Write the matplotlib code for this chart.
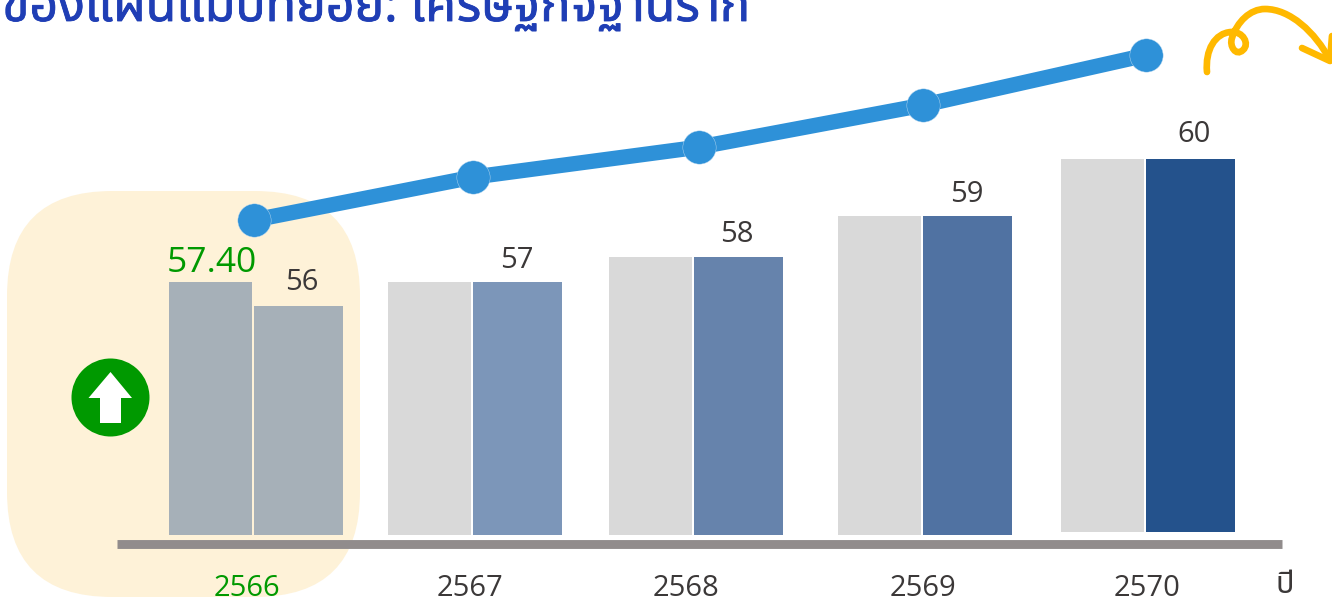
import matplotlib
matplotlib.use('Agg')
import matplotlib.pyplot as plt
import matplotlib.patheffects as pe
from matplotlib.patches import FancyBboxPatch, Circle, Polygon, PathPatch
from matplotlib.path import Path

years = ['2566', '2567', '2568', '2569', '2570']
first_labels = ['57.40']
second_labels = ['56', '57', '58', '59', '60']

# bar heights, the source chart does not draw them to a linear scale
first_vals = [56.97, 56.97, 58.0, 59.68, 62.02]
second_vals = [56.0, 56.97, 58.0, 59.68, 62.02]
line_vals = [59.51, 61.27, 62.5, 64.22, 66.27]

base = [46.6, 46.6, 46.6, 46.6, 46.72]
# group centres are not evenly spaced in the picture
pos = [253, 472, 693, 922, 1145]
line_pos = [254, 473, 699, 923, 1146]
first_colors = ['#A6B0B8', '#D9D9D9', '#D9D9D9', '#D9D9D9', '#D9D9D9']
second_colors = ['#A6B0B8', '#7C96B9', '#6683AC', '#5072A2', '#24528C']

W, H = 1332, 606
plt.rcParams['font.family'] = ['Open Sans', 'DejaVu Sans']
thai = ['Noto Sans Thai', 'Sarabun', 'IBM Plex Sans Thai', 'DejaVu Sans']

fig = plt.figure(figsize=(W / 100, H / 100), dpi=100)

# background axes in pixels for the decorations
deco = fig.add_axes([0, 0, 1, 1], zorder=1)
deco.set_xlim(0, W)
deco.set_ylim(H, 0)
deco.axis('off')

ax = fig.add_axes([0, 0, 1, 1], zorder=2)
ax.patch.set_alpha(0)
ax.set_xlim(0, W)
ax.set_ylim(43.69, 68.53)
ax.axis('off')

deco.add_patch(FancyBboxPatch((112, 296), 143, 196, boxstyle='round,pad=105,rounding_size=105',
                              fc='#FEF2D8', ec='none'))
deco.plot([117, 1282], [543.5, 543.5], color='#918C8C', lw=6.4, solid_capstyle='butt')

for i in range(5):
    ax.bar(pos[i] - 84, first_vals[i] - base[i], width=83, bottom=base[i], align='edge', color=first_colors[i])
    ax.bar(pos[i] + 1, second_vals[i] - base[i], width=89, bottom=base[i], align='edge', color=second_colors[i])

ax.plot(line_pos, line_vals, color='#2E91D8', lw=11, marker='o', ms=24, mec='#BFDCF2', mew=0.3,
        solid_capstyle='butt', zorder=5)

# value labels
deco.text(212, 263, first_labels[0], color='#009900', fontsize=25.5, ha='center', va='center', zorder=6)
label_x = [302, 517, 737, 967, 1194.5]
label_y = [283, 260, 235, 194, 135]
for x, y, s in zip(label_x, label_y, second_labels):
    deco.text(x, y, s, color='#3B3838', fontsize=21, ha='center', va='center', zorder=6)

# year labels
year_x = [246.5, 470, 686, 923, 1147]
for i, y in enumerate(years):
    deco.text(year_x[i], 588, y, color='#009900' if i == 0 else '#3B3838', fontsize=21,
              ha='center', va='center', zorder=6)
deco.text(1285, 585, 'ปี', family=thai, color='#3B3838', fontsize=22, ha='center', va='center', zorder=6)

# green circle with up arrow
deco.add_patch(Circle((110.5, 397.5), 39, fc='#009900', ec='none', zorder=6))
deco.add_patch(Polygon([(110.5, 372), (132, 398), (121, 398), (121, 423), (100, 423), (100, 398), (88.5, 398)],
                       closed=True, fc='white', ec='none', zorder=7))

# curly yellow arrow
curl = Path([(1207, 72),
             (1205, 50), (1215, 33), (1231, 32),
             (1243, 31), (1250, 44), (1243, 50),
             (1236, 57), (1229, 46), (1232, 38),
             (1237, 22), (1250, 9), (1265, 9),
             (1290, 9), (1315, 32), (1330, 60)],
            [Path.MOVETO] + [Path.CURVE4] * 15)
deco.add_patch(PathPatch(curl, fc='none', ec='#FFB900', lw=4.8, capstyle='round', zorder=6))
deco.plot([1302, 1330, 1332], [48, 61, 36], color='#FFB900', lw=4.8, solid_capstyle='round', zorder=6)

title = deco.text(2, 21, 'ของแผนแม่บทย่อย: เศรษฐกิจฐานราก', family=thai, color='#1F3EB5', fontsize=36,
                  fontweight='bold', ha='left', va='baseline', zorder=6)
title.set_path_effects([pe.withStroke(linewidth=0.6, foreground='#1F3EB5')])

fig.savefig('out.png', dpi=100)
